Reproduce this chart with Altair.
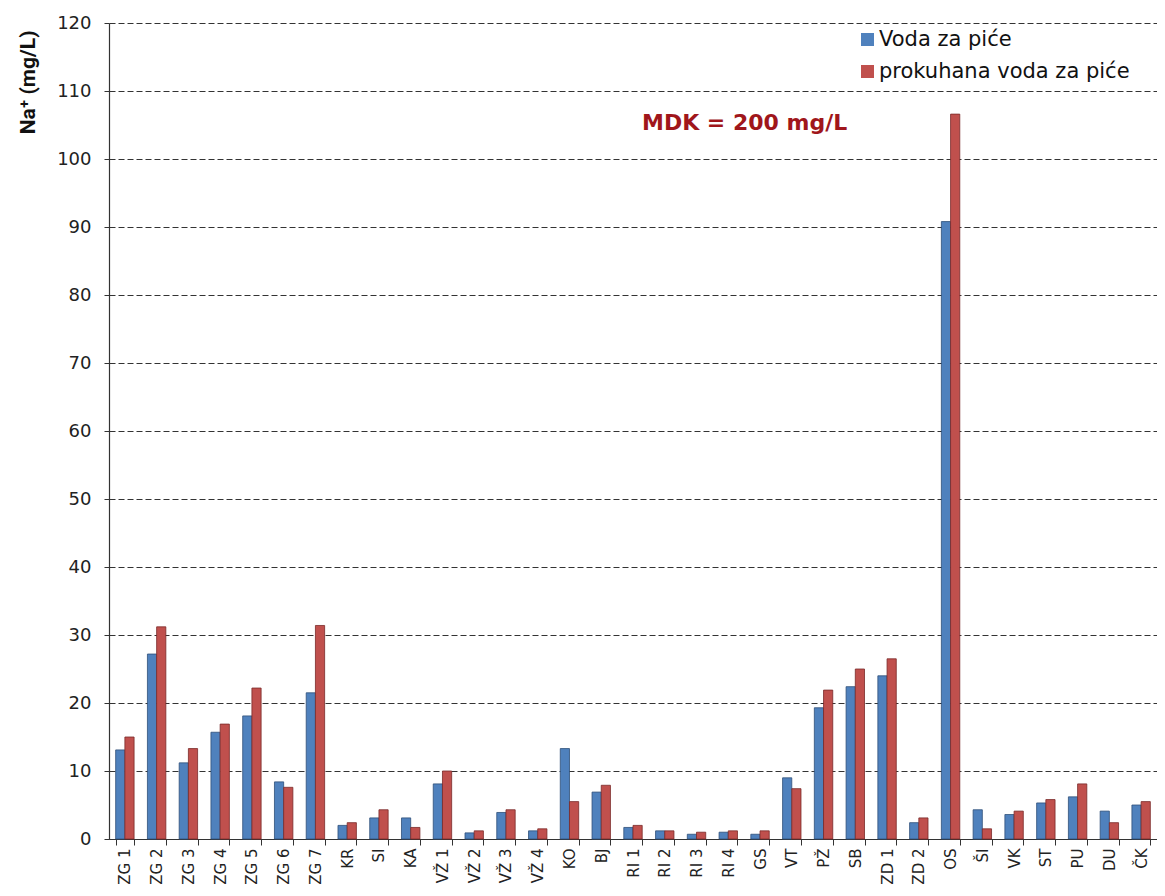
import altair as alt
import pandas as pd

categories = ["ZG 1", "ZG 2", "ZG 3", "ZG 4", "ZG 5", "ZG 6", "ZG 7", "KR", "SI", "KA",
              "VŽ 1", "VŽ 2", "VŽ 3", "VŽ 4", "KO", "BJ", "RI 1", "RI 2", "RI 3", "RI 4",
              "GS", "VT", "PŽ", "SB", "ZD 1", "ZD 2", "OS", "ŠI", "VK", "ST", "PU", "DU", "ČK"]
voda = [13.1, 27.2, 11.2, 15.7, 18.1, 8.4, 21.5, 2.0, 3.1, 3.1,
        8.1, 0.9, 3.9, 1.2, 13.3, 6.9, 1.7, 1.2, 0.7, 1.0,
        0.7, 9.0, 19.3, 22.4, 24.0, 2.4, 90.8, 4.3, 3.6, 5.3, 6.2, 4.1, 5.0]
prokuhana = [15.0, 31.2, 13.3, 16.9, 22.2, 7.6, 31.4, 2.4, 4.3, 1.7,
             10.0, 1.2, 4.3, 1.5, 5.5, 7.9, 2.0, 1.2, 1.0, 1.2,
             1.2, 7.4, 21.9, 25.0, 26.5, 3.1, 106.6, 1.5, 4.1, 5.8, 8.1, 2.4, 5.5]
series = ["Voda za piće", "prokuhana voda za piće"]
fill_colors = ["#4F81BD", "#C0504D"]
stroke_colors = ["#2F4F78", "#7A2A28"]
y_ticks = list(range(0, 121, 10))

rows = []
for c, a, b in zip(categories, voda, prokuhana):
    rows.append({"kat": c, "serija": series[0], "val": a})
    rows.append({"kat": c, "serija": series[1], "val": b})
df = pd.DataFrame(rows)

note = pd.DataFrame({"kat": ["RI 1"], "val": [105.3], "txt": ["MDK = 200 mg/L"]})

x_enc = alt.X("kat:N", sort=categories,
              scale=alt.Scale(paddingInner=0.42, paddingOuter=0.21),
              axis=alt.Axis(title=None, labelAngle=-90, labelFont="DejaVu Sans",
                            labelFontSize=15, labelColor="#222222", tickBand="extent",
                            tickSize=6, tickColor="#333333", domainColor="#333333",
                            labelPadding=3, grid=False))

bars = alt.Chart(df).mark_bar(strokeWidth=0.8).encode(
    x=x_enc,
    xOffset=alt.XOffset("serija:N", sort=series, scale=alt.Scale(domain=series)),
    y=alt.Y("val:Q", scale=alt.Scale(domain=[0, 120], nice=False),
            axis=alt.Axis(values=y_ticks, title="Na⁺ (mg/L)", titleFont="Roboto",
                          titleFontWeight="bold", titleFontSize=21, titleColor="#111111",
                          titlePadding=18, titleAnchor="end", titleY=7,
                          labelFont="DejaVu Sans", labelFontSize=18,
                          labelColor="#222222", labelPadding=13, tickSize=5,
                          tickColor="#333333", domainColor="#333333",
                          gridDash=[6, 3], gridColor="#333333", gridWidth=1)),
    color=alt.Color("serija:N", sort=series,
                    scale=alt.Scale(domain=series, range=fill_colors),
                    legend=alt.Legend(title=None, orient="none", legendX=748, legendY=6,
                                      symbolType="square", symbolSize=169,
                                      symbolStrokeWidth=0, labelFont="DejaVu Sans",
                                      labelFontSize=21, labelColor="#111111",
                                      labelOffset=1, labelLimit=0, rowPadding=10,
                                      padding=0)),
    stroke=alt.Stroke("serija:N", sort=series,
                      scale=alt.Scale(domain=series, range=stroke_colors), legend=None),
)

text = alt.Chart(note).mark_text(align="left", baseline="middle", dx=9,
                                 font="DejaVu Sans", fontWeight="bold", fontSize=22,
                                 color="#A0161B").encode(
    x=alt.X("kat:N", sort=categories),
    y=alt.Y("val:Q"),
    text="txt:N",
)

chart = alt.layer(bars, text).properties(
    width=1048, height=816,
    padding={"left": 9, "top": 6, "right": 0, "bottom": 0},
).configure_view(stroke=None).configure_axis(domainWidth=1.2)

chart.save("out.html", embed_options={"renderer": "svg", "actions": False})
